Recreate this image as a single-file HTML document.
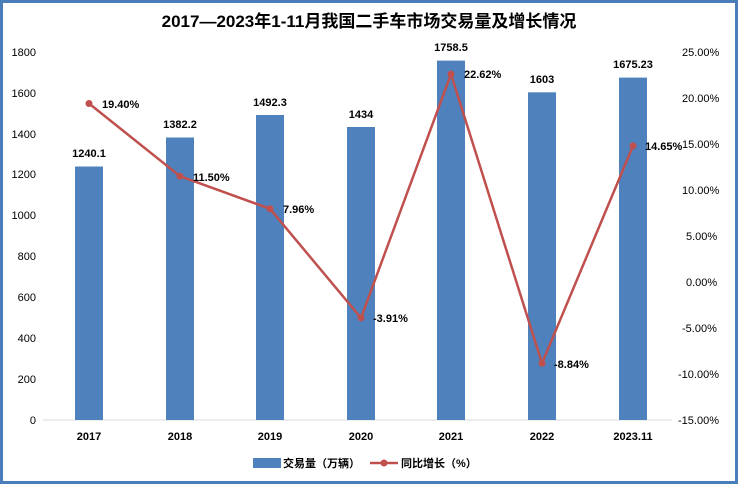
<!DOCTYPE html><html><head><meta charset="utf-8"><style>
body{margin:0;background:#fff}
svg{display:block}
text{font-family:"Liberation Sans","Noto Sans CJK SC",sans-serif;font-size:11px;fill:#000}
</style></head><body>
<svg width="738" height="484" viewBox="0 0 738 484">
<rect x="1.5" y="1.5" width="735" height="481" fill="#fff" stroke="#4a7ebb" stroke-width="3"/>
<text x="369" y="27" text-anchor="middle" style="font-size:17px;font-weight:bold">2017—2023年1-11月我国二手车市场交易量及增长情况</text>
<line x1="43" y1="420" x2="672" y2="420" stroke="#d9d9d9"/>
<g text-anchor="end">
<text x="36" y="424">0</text><text x="36" y="383">200</text><text x="36" y="342">400</text><text x="36" y="301">600</text><text x="36" y="260">800</text><text x="36" y="219">1000</text><text x="36" y="178">1200</text><text x="36" y="138">1400</text><text x="36" y="97">1600</text><text x="36" y="56">1800</text>
</g>
<g>
<text x="678" y="424">-15.00%</text><text x="678" y="378">-10.00%</text><text x="682" y="332">-5.00%</text><text x="686" y="286">0.00%</text><text x="686" y="240">5.00%</text><text x="682" y="194">10.00%</text><text x="682" y="148">15.00%</text><text x="682" y="102">20.00%</text><text x="682" y="56">25.00%</text>
</g>
<g fill="#4f81bd">
<rect x="75" y="166.5" width="28" height="253.5"/>
<rect x="166" y="137.5" width="28" height="282.5"/>
<rect x="256" y="115" width="28" height="305"/>
<rect x="347" y="127" width="28" height="293"/>
<rect x="437" y="60.6" width="28" height="359.4"/>
<rect x="528" y="92.3" width="28" height="327.7"/>
<rect x="619" y="77.6" width="28" height="342.4"/>
</g>
<g text-anchor="middle" style="font-weight:bold">
<text x="89" y="157" style="font-weight:bold">1240.1</text>
<text x="180" y="128" style="font-weight:bold">1382.2</text>
<text x="270" y="106" style="font-weight:bold">1492.3</text>
<text x="361" y="118" style="font-weight:bold">1434</text>
<text x="451" y="51" style="font-weight:bold">1758.5</text>
<text x="542" y="83" style="font-weight:bold">1603</text>
<text x="633" y="68" style="font-weight:bold">1675.23</text>
</g>
<polyline fill="none" stroke="#c0504d" stroke-width="2.5" points="89,103.5 180,176.2 270,208.8 361,317.9 451,74.1 542,363.3 633,145.9"/>
<g fill="#c0504d">
<circle cx="89" cy="103.5" r="3.5"/><circle cx="180" cy="176.2" r="3.5"/><circle cx="270" cy="208.8" r="3.5"/><circle cx="361" cy="317.9" r="3.5"/><circle cx="451" cy="74.1" r="3.5"/><circle cx="542" cy="363.3" r="3.5"/><circle cx="633" cy="145.9" r="3.5"/>
</g>
<g style="font-weight:bold">
<text x="102" y="108" style="font-weight:bold">19.40%</text>
<text x="193" y="181" style="font-weight:bold">11.50%</text>
<text x="283" y="213" style="font-weight:bold">7.96%</text>
<text x="373" y="322" style="font-weight:bold">-3.91%</text>
<text x="464" y="78" style="font-weight:bold">22.62%</text>
<text x="554" y="368" style="font-weight:bold">-8.84%</text>
<text x="645" y="150" style="font-weight:bold">14.65%</text>
</g>
<g text-anchor="middle" style="font-weight:bold">
<text x="89" y="440" style="font-weight:bold">2017</text><text x="180" y="440" style="font-weight:bold">2018</text><text x="270" y="440" style="font-weight:bold">2019</text><text x="361" y="440" style="font-weight:bold">2020</text><text x="451" y="440" style="font-weight:bold">2021</text><text x="542" y="440" style="font-weight:bold">2022</text><text x="633" y="440" style="font-weight:bold">2023.11</text>
</g>
<rect x="253" y="458" width="28" height="10" fill="#4f81bd"/>
<text x="283" y="467" style="font-weight:bold">交易量（万辆）</text>
<line x1="370" y1="463" x2="398" y2="463" stroke="#c0504d" stroke-width="2.5"/>
<circle cx="384" cy="463" r="3.5" fill="#c0504d"/>
<text x="401" y="467" style="font-weight:bold">同比增长（%）</text>
</svg>
</body></html>
